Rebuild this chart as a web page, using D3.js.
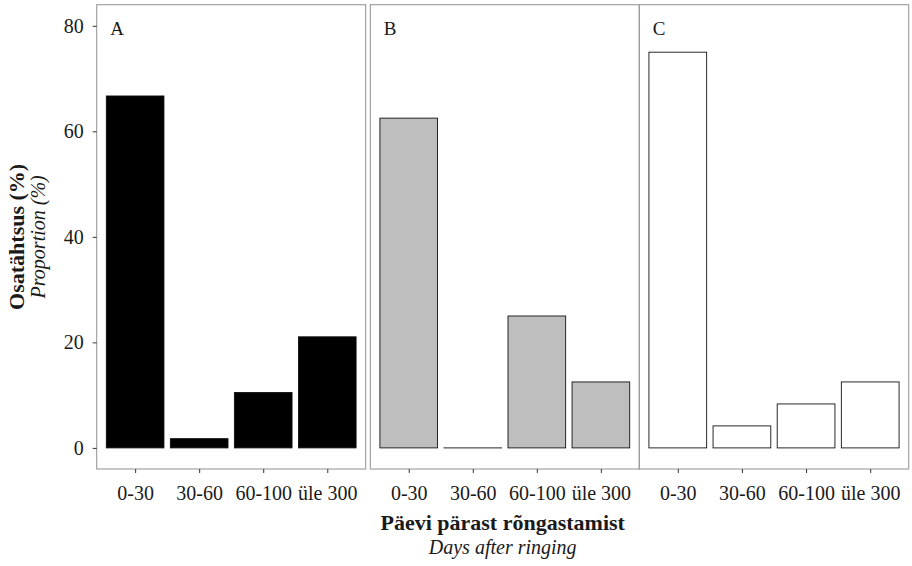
<!DOCTYPE html>
<html>
<head>
<meta charset="utf-8">
<script src="https://cdn.jsdelivr.net/npm/d3@7"></script>
<style>
  body { margin: 0; background: #fff; }
  svg text { font-family: "Liberation Serif", "DejaVu Serif", serif; fill: #1a1a1a; }
</style>
</head>
<body>
<div id="chart"></div>
<script>
// categories on the x axis (same in each panel)
var categories = ["0-30", "30-60", "60-100", "üle 300"];
// panel labels
var panels = ["A", "B", "C"];
// proportion (%) per panel
var valuesA = [66.7, 1.75, 10.5, 21.05];
var valuesB = [62.5, 0, 25, 12.5];
var valuesC = [75, 4.17, 8.33, 12.5];
var yTicks = [0, 20, 40, 60, 80];

var seriesList = [valuesA, valuesB, valuesC];
var fills = ["#000000", "#bebebe", "#ffffff"];

var width = 912, height = 566;
var svg = d3.select("#chart").append("svg")
    .attr("width", width)
    .attr("height", height);

// panel boxes (left, right) in px
var panelX = [[96.7, 365.7], [370.3, 639.3], [639.3, 908.7]];
var plotTop = 4.7, plotBottom = 469;

var y = d3.scaleLinear().domain([-4, 84]).range([plotBottom, plotTop]);

panels.forEach(function (label, i) {
    // ggplot-like placement: centres 0.6 units in, bar width 0.9 units
    var unit = (panelX[i][1] - panelX[i][0]) / 4.2;
    var x = d3.scalePoint().domain(categories)
        .range([panelX[i][0] + 0.6 * unit, panelX[i][1] - 0.6 * unit]);
    var bw = 0.9 * unit;

    var g = svg.append("g");

    // a zero bar still shows its outline as a flat line
    g.selectAll("rect.bar")
        .data(seriesList[i])
        .enter().append("rect")
        .attr("class", "bar")
        .attr("x", function (d, j) { return x(categories[j]) - bw / 2; })
        .attr("width", bw)
        .attr("y", function (d) { return y(d); })
        .attr("height", function (d) { return Math.max(0.01, y(0) - y(d)); })
        .attr("fill", fills[i])
        .attr("stroke", "#111")
        .attr("stroke-width", 0.9);

    // panel border
    g.append("rect")
        .attr("x", panelX[i][0])
        .attr("y", plotTop)
        .attr("width", panelX[i][1] - panelX[i][0])
        .attr("height", plotBottom - plotTop)
        .attr("fill", "none")
        .attr("stroke", "#9a9a9a")
        .attr("stroke-width", 1.1);

    // panel letter
    g.append("text")
        .attr("x", panelX[i][0] + 13.5)
        .attr("y", 35)
        .style("font-size", "19px")
        .text(label);

    // x axis
    var xAxis = g.append("g")
        .attr("transform", "translate(0," + plotBottom + ")")
        .call(d3.axisBottom(x).tickSize(4).tickPadding(13));
    xAxis.select(".domain").remove();
    xAxis.selectAll(".tick line").attr("stroke", "#333");
    xAxis.selectAll(".tick text")
        .style("font-size", "20px")
        .style("font-family", "Liberation Serif, serif")
        .attr("fill", "#1a1a1a");
});

// y axis on the first panel
var yAxis = svg.append("g")
    .attr("transform", "translate(" + panelX[0][0] + ",0)")
    .call(d3.axisLeft(y).tickValues(yTicks).tickSize(4).tickPadding(9));
yAxis.select(".domain").remove();
yAxis.selectAll(".tick line").attr("stroke", "#333");
yAxis.selectAll(".tick text")
    .style("font-size", "20px")
    .style("font-family", "Liberation Serif, serif")
    .attr("fill", "#1a1a1a");

// axis titles
var xMid = (panelX[0][0] + panelX[2][1]) / 2;
svg.append("text")
    .attr("x", xMid).attr("y", 530)
    .attr("text-anchor", "middle")
    .style("font-size", "22px").style("font-weight", "bold")
    .text("Päevi pärast rõngastamist");
svg.append("text")
    .attr("x", xMid).attr("y", 554)
    .attr("text-anchor", "middle")
    .style("font-size", "20px").style("font-style", "italic")
    .text("Days after ringing");

var yMid = (plotTop + plotBottom) / 2;
svg.append("text")
    .attr("transform", "translate(24," + yMid + ") rotate(-90)")
    .attr("text-anchor", "middle")
    .style("font-size", "22px").style("font-weight", "bold")
    .text("Osatähtsus (%)");
svg.append("text")
    .attr("transform", "translate(45," + yMid + ") rotate(-90)")
    .attr("text-anchor", "middle")
    .style("font-size", "20px").style("font-style", "italic")
    .text("Proportion (%)");
</script>
</body>
</html>
